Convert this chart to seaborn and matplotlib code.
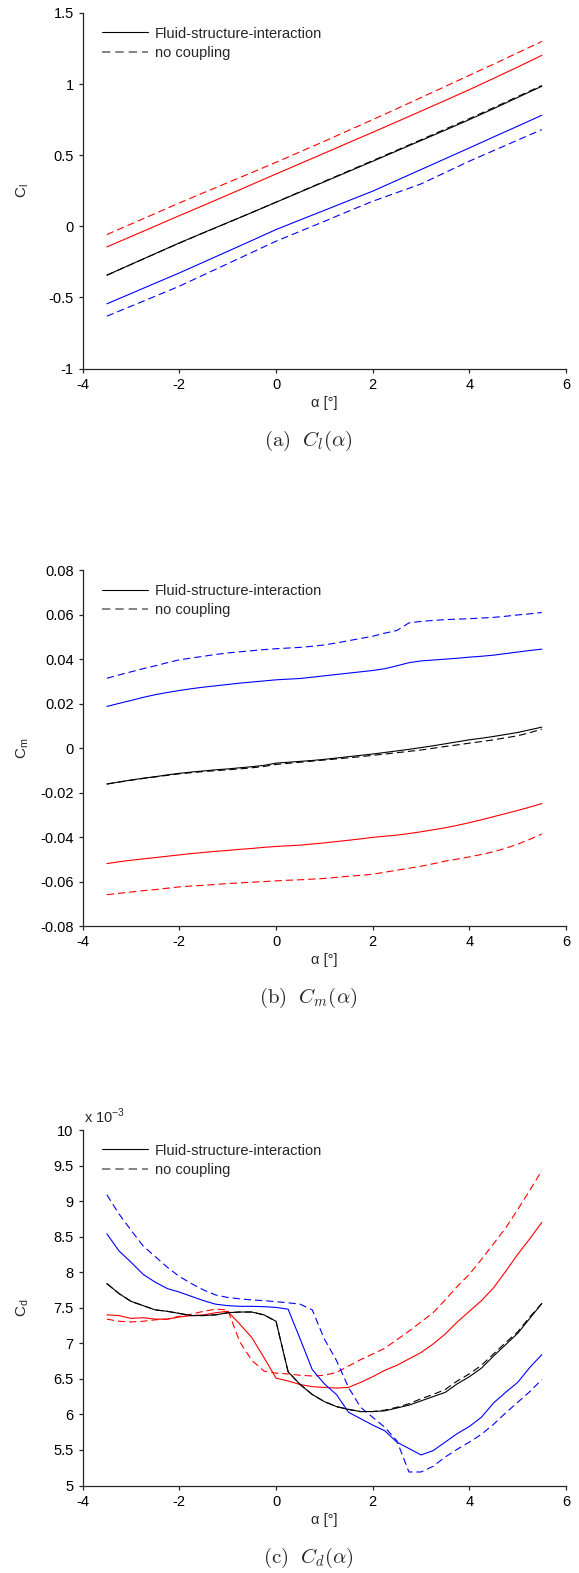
import matplotlib
matplotlib.use("Agg")
import numpy as np
import pandas as pd
import seaborn as sns
import matplotlib.pyplot as plt
from matplotlib.lines import Line2D
from matplotlib.ticker import FuncFormatter

# ---------------------------------------------------------------- data
# angle of attack grids [deg]
alpha_cl = [-3.5, -3.0, -2.5, -2.0, -1.5, -1.0, -0.5, 0.0, 0.5, 1.0,
            1.5, 2.0, 2.5, 3.0, 3.5, 4.0, 4.5, 5.0, 5.5]
alpha_fine = [-3.5, -3.25, -3.0, -2.75, -2.5, -2.25, -2.0, -1.75, -1.5, -1.25,
              -1.0, -0.75, -0.5, -0.25, 0.0, 0.25, 0.5, 0.75, 1.0, 1.25,
              1.5, 1.75, 2.0, 2.25, 2.5, 2.75, 3.0, 3.25, 3.5, 3.75,
              4.0, 4.25, 4.5, 4.75, 5.0, 5.25, 5.5]

# lift coefficient
cl_black_fsi = [-0.344, -0.268, -0.192, -0.117, -0.045, 0.026, 0.097, 0.169, 0.241, 0.313,
                0.385, 0.457, 0.530, 0.603, 0.676, 0.750, 0.827, 0.906, 0.985]
cl_black_nc = [-0.344, -0.268, -0.193, -0.118, -0.046, 0.025, 0.097, 0.170, 0.243, 0.316,
               0.389, 0.462, 0.535, 0.609, 0.683, 0.757, 0.834, 0.912, 0.990]
cl_red_fsi = [-0.145, -0.072, 0.001, 0.075, 0.147, 0.220, 0.294, 0.368, 0.441, 0.514,
              0.588, 0.661, 0.735, 0.810, 0.885, 0.961, 1.040, 1.120, 1.202]
cl_red_nc = [-0.058, 0.016, 0.090, 0.164, 0.236, 0.307, 0.378, 0.450, 0.524, 0.598,
             0.674, 0.750, 0.827, 0.905, 0.983, 1.062, 1.140, 1.220, 1.300]
cl_blue_fsi = [-0.545, -0.473, -0.400, -0.328, -0.252, -0.176, -0.100, -0.023, 0.045, 0.112,
               0.180, 0.247, 0.323, 0.399, 0.475, 0.551, 0.628, 0.704, 0.781]
cl_blue_nc = [-0.632, -0.562, -0.492, -0.421, -0.342, -0.263, -0.184, -0.105, -0.035, 0.035,
              0.106, 0.176, 0.237, 0.298, 0.378, 0.458, 0.532, 0.606, 0.680]

# pitching moment coefficient
cm_black_fsi = [-0.0161, -0.0152, -0.0143, -0.0135, -0.0128, -0.0120, -0.0113, -0.0107, -0.0102, -0.0097,
                -0.0093, -0.0088, -0.0083, -0.0077, -0.0067, -0.0063, -0.0059, -0.0055, -0.0050, -0.0044,
                -0.0038, -0.0032, -0.0026, -0.0019, -0.0012, -0.0005, 0.0003, 0.0011, 0.0020, 0.0029,
                0.0038, 0.0045, 0.0053, 0.0062, 0.0071, 0.0083, 0.0095]
cm_black_nc = [-0.0161, -0.0152, -0.0144, -0.0136, -0.0129, -0.0122, -0.0115, -0.0110, -0.0105, -0.0101,
               -0.0097, -0.0093, -0.0088, -0.0082, -0.0073, -0.0068, -0.0063, -0.0058, -0.0053, -0.0048,
               -0.0043, -0.0038, -0.0032, -0.0026, -0.0020, -0.0014, -0.0008, 0.0000, 0.0008, 0.0015,
               0.0023, 0.0030, 0.0038, 0.0047, 0.0056, 0.0070, 0.0086]
cm_red_fsi = [-0.0519, -0.0511, -0.0504, -0.0498, -0.0492, -0.0486, -0.0480, -0.0474, -0.0469, -0.0464,
              -0.0460, -0.0455, -0.0451, -0.0446, -0.0442, -0.0439, -0.0436, -0.0431, -0.0426, -0.0420,
              -0.0414, -0.0408, -0.0401, -0.0396, -0.0391, -0.0384, -0.0376, -0.0367, -0.0358, -0.0347,
              -0.0335, -0.0322, -0.0308, -0.0294, -0.0280, -0.0265, -0.0249]
cm_red_nc = [-0.0659, -0.0653, -0.0647, -0.0641, -0.0636, -0.0630, -0.0624, -0.0620, -0.0617, -0.0613,
             -0.0609, -0.0606, -0.0603, -0.0600, -0.0597, -0.0594, -0.0592, -0.0589, -0.0586, -0.0581,
             -0.0576, -0.0572, -0.0567, -0.0558, -0.0549, -0.0540, -0.0531, -0.0520, -0.0508, -0.0499,
             -0.0489, -0.0478, -0.0466, -0.0450, -0.0432, -0.0410, -0.0386]
cm_blue_fsi = [0.0188, 0.0202, 0.0215, 0.0229, 0.0241, 0.0251, 0.0260, 0.0268, 0.0275, 0.0281,
               0.0287, 0.0293, 0.0298, 0.0303, 0.0308, 0.0311, 0.0314, 0.0320, 0.0326, 0.0332,
               0.0338, 0.0344, 0.0350, 0.0358, 0.0371, 0.0385, 0.0393, 0.0397, 0.0401, 0.0405,
               0.0410, 0.0414, 0.0419, 0.0426, 0.0433, 0.0440, 0.0446]
cm_blue_nc = [0.0315, 0.0330, 0.0344, 0.0358, 0.0371, 0.0385, 0.0398, 0.0406, 0.0414, 0.0422,
              0.0429, 0.0434, 0.0439, 0.0444, 0.0448, 0.0451, 0.0454, 0.0459, 0.0465, 0.0474,
              0.0484, 0.0494, 0.0504, 0.0518, 0.0530, 0.0564, 0.0571, 0.0575, 0.0579, 0.0581,
              0.0583, 0.0586, 0.0589, 0.0594, 0.0600, 0.0605, 0.0611]

# drag coefficient, in units of 1e-3
cd_black_fsi = [7.84, 7.70, 7.59, 7.53, 7.47, 7.45, 7.42, 7.39, 7.39, 7.40,
                7.43, 7.44, 7.44, 7.40, 7.31, 6.60, 6.42, 6.28, 6.18, 6.11,
                6.07, 6.04, 6.04, 6.05, 6.09, 6.13, 6.19, 6.25, 6.31, 6.43,
                6.53, 6.65, 6.82, 6.98, 7.14, 7.35, 7.56]
cd_black_nc = [7.84, 7.70, 7.59, 7.53, 7.47, 7.45, 7.42, 7.39, 7.39, 7.40,
               7.43, 7.44, 7.44, 7.40, 7.31, 6.60, 6.42, 6.28, 6.18, 6.11,
               6.07, 6.04, 6.04, 6.06, 6.10, 6.15, 6.22, 6.28, 6.35, 6.47,
               6.57, 6.69, 6.85, 7.01, 7.16, 7.37, 7.56]
cd_red_fsi = [7.40, 7.39, 7.35, 7.36, 7.34, 7.34, 7.37, 7.39, 7.40, 7.43,
              7.45, 7.27, 7.08, 6.80, 6.51, 6.47, 6.42, 6.39, 6.38, 6.37,
              6.38, 6.45, 6.53, 6.62, 6.69, 6.78, 6.87, 6.99, 7.13, 7.30,
              7.45, 7.60, 7.78, 8.01, 8.25, 8.47, 8.70]
cd_red_nc = [7.34, 7.31, 7.30, 7.31, 7.33, 7.34, 7.38, 7.41, 7.45, 7.48,
             7.47, 7.02, 6.76, 6.61, 6.58, 6.57, 6.55, 6.54, 6.55, 6.59,
             6.68, 6.77, 6.85, 6.93, 7.05, 7.17, 7.30, 7.43, 7.61, 7.80,
             7.97, 8.18, 8.40, 8.62, 8.88, 9.15, 9.43]
cd_blue_fsi = [8.54, 8.30, 8.14, 7.97, 7.86, 7.77, 7.72, 7.66, 7.60, 7.55,
               7.53, 7.52, 7.52, 7.515, 7.505, 7.48, 7.06, 6.63, 6.43, 6.28,
               6.03, 5.94, 5.85, 5.77, 5.61, 5.52, 5.43, 5.49, 5.61, 5.73,
               5.83, 5.96, 6.16, 6.31, 6.45, 6.66, 6.84]
cd_blue_nc = [9.09, 8.82, 8.59, 8.37, 8.22, 8.07, 7.94, 7.84, 7.75, 7.68,
              7.645, 7.625, 7.61, 7.60, 7.585, 7.57, 7.55, 7.47, 7.06, 6.76,
              6.38, 6.10, 5.96, 5.82, 5.63, 5.19, 5.19, 5.27, 5.40, 5.51,
              5.61, 5.72, 5.86, 6.02, 6.17, 6.32, 6.49]

# axis ticks
x_ticks = [-4, -2, 0, 2, 4, 6]
cl_ticks = [-1, -0.5, 0, 0.5, 1, 1.5]
cm_ticks = [-0.08, -0.06, -0.04, -0.02, 0, 0.02, 0.04, 0.06, 0.08]
cd_ticks = [5, 5.5, 6, 6.5, 7, 7.5, 8, 8.5, 9, 9.5, 10]

legend_labels = ["Fluid-structure-interaction", "no coupling"]
captions = [r"$\mathrm{(a)}\ \ C_l(\alpha)$",
            r"$\mathrm{(b)}\ \ C_m(\alpha)$",
            r"$\mathrm{(c)}\ \ C_d(\alpha)$"]

# ---------------------------------------------------------------- style
sns.set_theme(style="ticks")
plt.rcParams["font.family"] = ["Liberation Sans", "DejaVu Sans"]
plt.rcParams["axes.unicode_minus"] = False

FS = 10.5
LW = 0.8
DASH = (0, (6.5, 3.6))
AX_COLOR = "#262626"

fig = plt.figure(figsize=(5.79, 15.73), dpi=100)
W, H = 579.0, 1573.0

left_px, width_px, height_px = 82.7, 483.3, 355.5
tops_px = [13.0, 570.5, 1130.0]
axes = []
for top in tops_px:
    axes.append(fig.add_axes([left_px / W, 1 - (top + height_px) / H,
                              width_px / W, height_px / H]))

fmt = FuncFormatter(lambda v, p: f"{round(v, 6) + 0.0:g}")


def draw(ax, x, series):
    for vals, color, ls in series:
        sns.lineplot(x=x, y=vals, ax=ax, color=color, linestyle=ls,
                     linewidth=LW, estimator=None, sort=False, legend=False)


def style_axes(ax, ylim, yticks, ylabel):
    ax.set_xlim(-4, 6)
    ax.set_xticks(x_ticks)
    ax.set_ylim(*ylim)
    ax.set_yticks(yticks)
    ax.xaxis.set_major_formatter(fmt)
    ax.yaxis.set_major_formatter(fmt)
    sns.despine(ax=ax)
    for side in ("left", "bottom"):
        ax.spines[side].set_color(AX_COLOR)
        ax.spines[side].set_linewidth(0.9)
    ax.tick_params(direction="out", length=3, width=0.9, pad=3.5,
                   labelsize=FS, color=AX_COLOR, labelcolor="black")
    ax.set_xlabel("α [°]", fontsize=FS)
    ax.xaxis.set_label_coords(0.5, -0.077)
    ax.set_ylabel(ylabel, fontsize=FS + 0.5)
    ax.yaxis.set_label_coords(-0.106, 0.5)
    handles = [Line2D([], [], color="black", lw=LW),
               Line2D([], [], color="#6e6e6e", lw=LW + 0.4, linestyle=(0, (5, 3)))]
    ax.legend(handles, legend_labels, loc="upper left",
              bbox_to_anchor=(0.0406, 0.962), frameon=False, fontsize=FS,
              handlelength=3.15, handletextpad=0.45, labelspacing=0.36,
              borderpad=0.0, borderaxespad=0.0)


ax1, ax2, ax3 = axes

draw(ax1, alpha_cl, [(cl_red_nc, "#ff0000", DASH), (cl_red_fsi, "#ff0000", "-"),
                     (cl_blue_nc, "#0000ff", DASH), (cl_blue_fsi, "#0000ff", "-"),
                     (cl_black_nc, "black", DASH), (cl_black_fsi, "black", "-")])
style_axes(ax1, (-1, 1.5), cl_ticks, r"$\mathregular{C_l}$")

draw(ax2, alpha_fine, [(cm_red_nc, "#ff0000", DASH), (cm_red_fsi, "#ff0000", "-"),
                       (cm_blue_nc, "#0000ff", DASH), (cm_blue_fsi, "#0000ff", "-"),
                       (cm_black_nc, "black", DASH), (cm_black_fsi, "black", "-")])
style_axes(ax2, (-0.08, 0.08), cm_ticks, r"$\mathregular{C_m}$")

draw(ax3, alpha_fine, [(cd_red_nc, "#ff0000", DASH), (cd_red_fsi, "#ff0000", "-"),
                       (cd_blue_nc, "#0000ff", DASH), (cd_blue_fsi, "#0000ff", "-"),
                       (cd_black_nc, "black", DASH), (cd_black_fsi, "black", "-")])
style_axes(ax3, (5, 10), cd_ticks, r"$\mathregular{C_d}$")
ax3.text(0.002, 1.01, r"x 10$^{\mathregular{-3}}$", transform=ax3.transAxes,
         ha="left", va="bottom", fontsize=FS)

# sub-figure captions
for cap, top in zip(captions, tops_px):
    fig.text(308 / W, 1 - (top + height_px + 72.0) / H, cap,
             math_fontfamily="cm", fontsize=15, ha="center", va="center")

fig.savefig("out.png", dpi=100)
